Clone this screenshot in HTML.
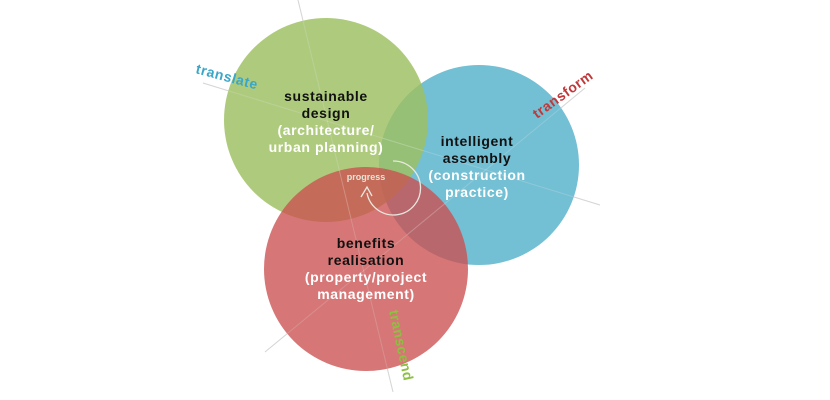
<!DOCTYPE html>
<html><head><style>
html,body{margin:0;padding:0;background:#fff;}
svg{display:block;}
text{font-family:"Liberation Sans",Arial,sans-serif;font-weight:bold;}
</style></head><body>
<svg width="830" height="400" viewBox="0 0 830 400">
<line x1="298" y1="0" x2="393" y2="392" stroke="#c8c8c8" stroke-width="1"/>
<line x1="203" y1="83" x2="600" y2="205" stroke="#c8c8c8" stroke-width="1"/>
<line x1="265" y1="352" x2="585" y2="88" stroke="#c8c8c8" stroke-width="1"/>
<circle cx="479" cy="165" r="100" fill="#5ab4cc" fill-opacity="0.85"/>
<circle cx="326" cy="120" r="102" fill="#9cc060" fill-opacity="0.82"/>
<circle cx="366" cy="269" r="102" fill="#cc5050" fill-opacity="0.78"/>
<line x1="298" y1="0" x2="393" y2="392" stroke="#ffffff" stroke-opacity="0.25" stroke-width="1"/>
<line x1="203" y1="83" x2="600" y2="205" stroke="#ffffff" stroke-opacity="0.25" stroke-width="1"/>
<line x1="265" y1="352" x2="585" y2="88" stroke="#ffffff" stroke-opacity="0.25" stroke-width="1"/>
<path d="M393 161 A27 27 0 1 1 367 193" fill="none" stroke="#e8e8e0" stroke-width="1.3"/>
<path d="M361 197 L367 187 L372 196" fill="none" stroke="#e8e8e0" stroke-width="1.3"/>
<text x="366" y="180" font-size="9" fill="#e6e6d8" text-anchor="middle">progress</text>
<g font-size="14" text-anchor="middle" letter-spacing="0.6">
<text x="326" y="101" fill="#111">sustainable</text>
<text x="326" y="118" fill="#111">design</text>
<text x="326" y="135" fill="#fff">(architecture/</text>
<text x="326" y="152" fill="#fff">urban planning)</text>
<text x="477" y="146" fill="#111">intelligent</text>
<text x="477" y="163" fill="#111">assembly</text>
<text x="477" y="180" fill="#fff">(construction</text>
<text x="477" y="197" fill="#fff">practice)</text>
<text x="366" y="248" fill="#111">benefits</text>
<text x="366" y="265" fill="#111">realisation</text>
<text x="366" y="282" fill="#fff">(property/project</text>
<text x="366" y="299" fill="#fff">management)</text>
</g>
<text x="0" y="0" font-size="14" fill="#3aa6c8" letter-spacing="0.6" transform="translate(195,73) rotate(15)">translate</text>
<text x="0" y="0" font-size="14" fill="#c0383a" letter-spacing="0.6" transform="translate(537,119) rotate(-36)">transform</text>
<text x="0" y="0" font-size="14" fill="#8cc040" letter-spacing="0.6" transform="translate(389,311) rotate(78)">transcend</text>
</svg>
</body></html>
